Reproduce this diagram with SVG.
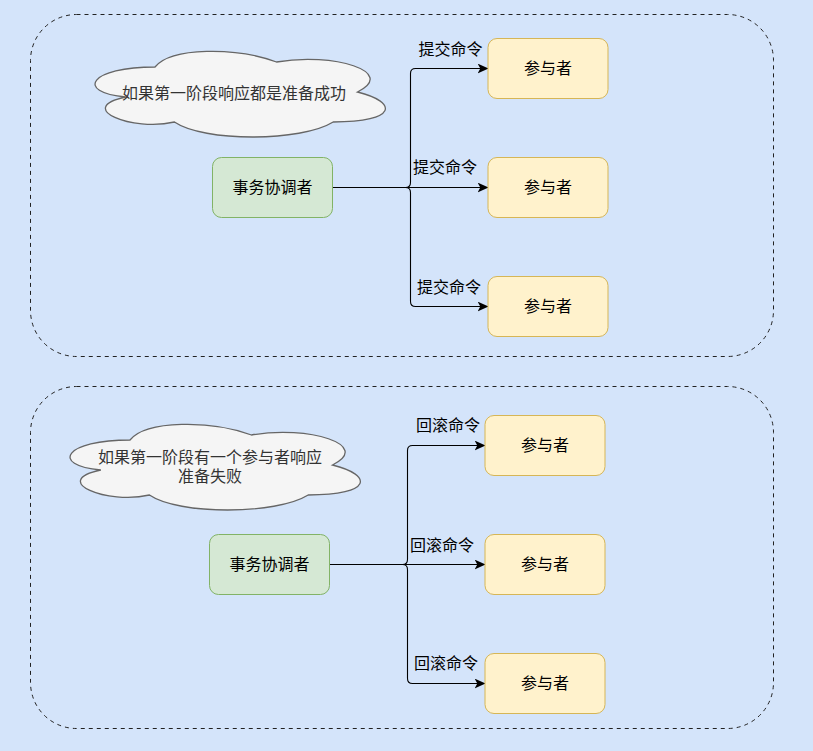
<svg xmlns="http://www.w3.org/2000/svg" width="813" height="751" viewBox="0 0 813 751">
<style>
  text { font-family: "Noto Sans CJK SC", "Noto Sans", sans-serif; font-size: 16px; text-anchor: middle; dominant-baseline: central; }
  .container { fill: none; stroke: #222; stroke-width: 1; stroke-dasharray: 4 4; }
  .coord rect { fill: #d5e8d4; stroke: #82b366; stroke-width: 1; }
  .part rect { fill: #fff2cc; stroke: #d6b656; stroke-width: 1; }
  .node text { fill: #000; }
  .cloud use { fill: #f5f5f5; stroke: #666; stroke-width: 1.3; }
  .cloud text { fill: #333; }
  .edge { fill: none; stroke: #000; stroke-width: 1.1; marker-end: url(#arr); }
  .lbl { fill: #000; }
</style>
<defs>
  <marker id="arr" markerUnits="userSpaceOnUse" markerWidth="11" markerHeight="10" viewBox="0 0 10 9" refX="9.5" refY="4.5" orient="auto">
    <path d="M0,0 L10,4.5 L0,9 L2.5,4.5 Z" fill="#000"/>
  </marker>
  <path id="cloudShape" d="M81,25 C16.2,25 0,50 51.84,55 C0,66 58.32,90 100.44,80 C129.6,100 226.8,100 259.2,80 C324,80 324,60 283.5,50 C324,30 259.2,10 202.5,20 C162,5 97.2,5 81,25 Z"/>
</defs>
<rect x="0" y="0" width="813" height="751" fill="#d4e4fa"/>

<g id="container-top"><rect class="container" x="30.5" y="14.5" width="743" height="342" rx="46" ry="46"/></g>
<g id="container-bottom"><rect class="container" x="30.5" y="386.5" width="743" height="342" rx="46" ry="46"/></g>

<g id="connectors">
  <path class="edge" d="M332.5,187.5 H405.5 Q410.5,187.5 410.5,182.5 V73.5 Q410.5,68.5 415.5,68.5 H488"/>
  <path class="edge" d="M332.5,187.5 H488"/>
  <path class="edge" d="M332.5,187.5 H405.5 Q410.5,187.5 410.5,192.5 V301.5 Q410.5,306.5 415.5,306.5 H488"/>
  <text class="lbl" x="450.5" y="47.5">提交命令</text>
  <text class="lbl" x="445" y="166">提交命令</text>
  <text class="lbl" x="449" y="285.5">提交命令</text>

  <path class="edge" d="M329.5,564.5 H402.5 Q407.5,564.5 407.5,559.5 V450.5 Q407.5,445.5 412.5,445.5 H485"/>
  <path class="edge" d="M329.5,564.5 H485"/>
  <path class="edge" d="M329.5,564.5 H402.5 Q407.5,564.5 407.5,569.5 V678.5 Q407.5,683.5 412.5,683.5 H485"/>
  <text class="lbl" x="448" y="424">回滚命令</text>
  <text class="lbl" x="442" y="544">回滚命令</text>
  <text class="lbl" x="446" y="662">回滚命令</text>
</g>

<g id="cloud-top" class="cloud">
  <use href="#cloudShape" transform="translate(74,42)"/>
  <text x="234" y="91.5">如果第一阶段响应都是准备成功</text>
</g>
<g id="cloud-bottom" class="cloud">
  <use href="#cloudShape" transform="translate(49,415)"/>
  <text x="210" y="456">如果第一阶段有一个参与者响应</text>
  <text x="210" y="475">准备失败</text>
</g>

<g id="coordinator-top" class="node coord">
  <rect x="212.5" y="157.5" width="120" height="60" rx="9" ry="9"/>
  <text x="272.5" y="186">事务协调者</text>
</g>
<g id="participant-top-1" class="node part">
  <rect x="488" y="38.5" width="120" height="60" rx="9" ry="9"/>
  <text x="548" y="67">参与者</text>
</g>
<g id="participant-top-2" class="node part">
  <rect x="488" y="157.5" width="120" height="60" rx="9" ry="9"/>
  <text x="548" y="186">参与者</text>
</g>
<g id="participant-top-3" class="node part">
  <rect x="488" y="276.5" width="120" height="60" rx="9" ry="9"/>
  <text x="548" y="305">参与者</text>
</g>

<g id="coordinator-bottom" class="node coord">
  <rect x="209.5" y="534.5" width="120" height="60" rx="9" ry="9"/>
  <text x="269.5" y="563">事务协调者</text>
</g>
<g id="participant-bottom-1" class="node part">
  <rect x="485" y="415.5" width="120" height="60" rx="9" ry="9"/>
  <text x="545" y="444">参与者</text>
</g>
<g id="participant-bottom-2" class="node part">
  <rect x="485" y="534.5" width="120" height="60" rx="9" ry="9"/>
  <text x="545" y="563">参与者</text>
</g>
<g id="participant-bottom-3" class="node part">
  <rect x="485" y="653.5" width="120" height="60" rx="9" ry="9"/>
  <text x="545" y="682">参与者</text>
</g>
</svg>
